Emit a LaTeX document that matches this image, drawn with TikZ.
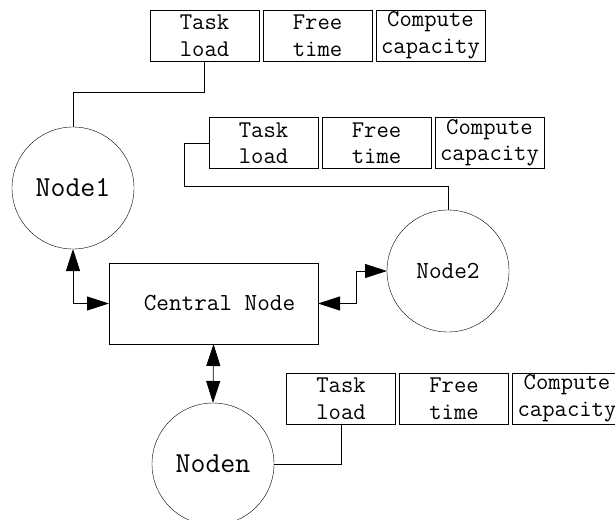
\documentclass[tikz,border=0pt]{standalone}
\usepackage{fontspec}
\usetikzlibrary{arrows.meta,calc,positioning}
\newcommand{\infogap}{4pt}
\tikzset{
    infosty/.style={draw,rectangle,minimum width=109pt,minimum height=51pt,inner sep=0pt,outer sep=0pt,align=center,font=\ttfamily\fontsize{24}{26.5}\selectfont},
    hoststy/.style={draw,circle,minimum size=122pt,inner sep=0pt,outer sep=0pt},
    bigsty/.style={font=\ttfamily\fontsize{29}{32}\selectfont},
    smallsty/.style={font=\ttfamily\fontsize{24.5}{28}\selectfont},
    centersty/.style={draw,rectangle,minimum width=209pt,minimum height=81pt,inner sep=0pt,outer sep=0pt,font=\ttfamily\fontsize{24.5}{28}\selectfont},
    linksty/.style={line width=0.8pt},
}

\begin{document}
\begin{tikzpicture}[x=1pt,y=-1pt,>={Triangle[length=22pt,width=14pt]}]
  \clip (0,0) rectangle (615,519);

  % info boxes
  \node[infosty] (t1) at (204.5,35.5) {Task\\load};
  \node[infosty,right=\infogap of t1] (f1) {Free\\time};
  \node[infosty,right=\infogap of f1] (c1) {Compute\\capacity};

  \node[infosty] (t2) at (263.5,143) {Task\\load};
  \node[infosty,right=\infogap of t2] (f2) {Free\\time};
  \node[infosty,right=\infogap of f2] (c2) {Compute\\capacity};

  \node[infosty] (t3) at (341,398.5) {Task\\load};
  \node[infosty,right=\infogap of t3] (f3) {Free\\time};
  \node[infosty,right=\infogap of f3] (c3) {Compute\\capacity};

  % hosts
  \node[hoststy,bigsty] (n1) at (73,188) {Node1};
  \node[hoststy,smallsty] (n2) at (448,271) {Node2};
  \node[hoststy,bigsty] (nn) at (213,464) {Noden};
  \node[centersty] (cn) at (213.5,303.5) {\hspace{12pt}Central Node};

  \draw[linksty] (n1.north) -- ++(0,-35) -| (t1.south);
  \draw[linksty] (t2.west) -- ++(-25,0) |- ($(n2.north)+(0,-24)$) -- (n2.north);
  \draw[linksty] (nn.east) -| (t3.south);

  \draw[linksty,<->] (n1.south) |- (cn.west);
  \draw[linksty,<->] (cn.east) -- ++(38,0) |- (n2.west);
  \draw[linksty,<->] (cn.south) -- (nn.north);
\end{tikzpicture}
\end{document}
